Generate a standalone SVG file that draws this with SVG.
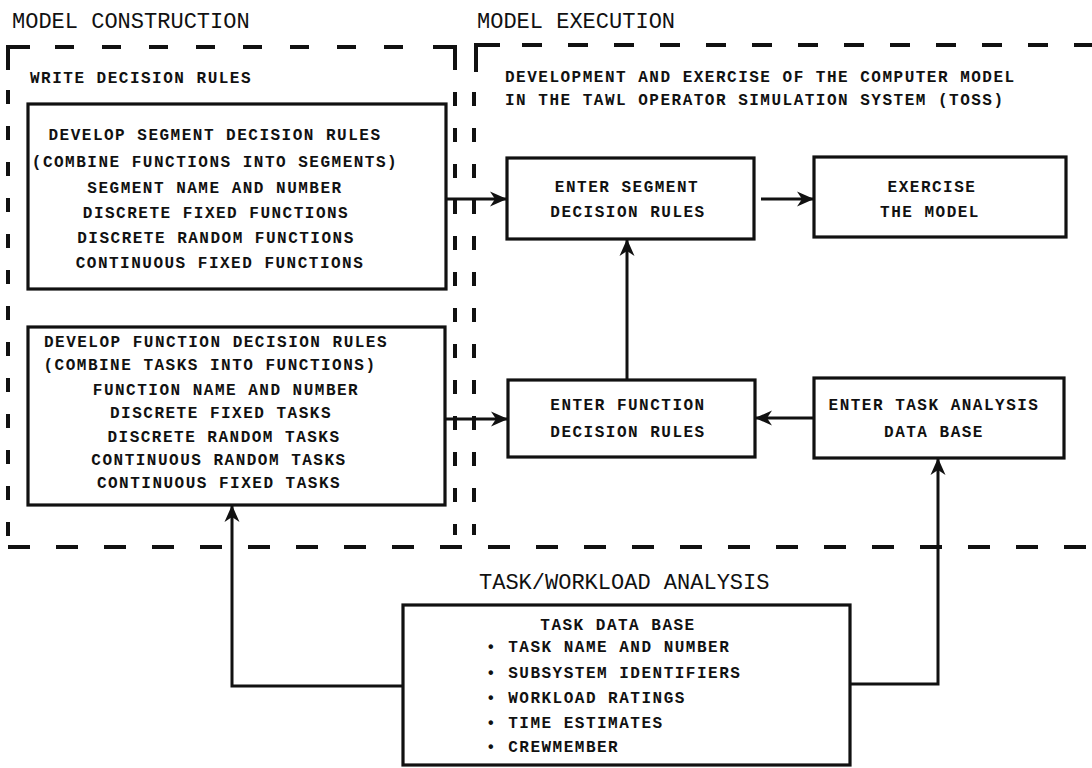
<svg xmlns="http://www.w3.org/2000/svg" width="1092" height="768" viewBox="0 0 1092 768">
<style>
.title{font-family:"Liberation Mono","DejaVu Sans Mono",monospace;font-size:22px;fill:#111}
.t{font-family:"Liberation Mono","DejaVu Sans Mono",monospace;font-size:16px;font-weight:bold;letter-spacing:1.5px;fill:#111}
.c{text-anchor:middle}
.box{fill:#fff;stroke:#111;stroke-width:3.2}
.conn{fill:none;stroke:#111;stroke-width:3}
.dash{fill:none;stroke:#111;stroke-width:4}
</style>
<defs>
<marker id="ah" markerUnits="userSpaceOnUse" markerWidth="20" markerHeight="18" viewBox="-18 -9 20 18" refX="0" refY="0" orient="auto">
<path d="M0,0 L-17,-7.5 L-12,0 L-17,7.5 Z" fill="#111"/>
</marker>
</defs>
<rect width="1092" height="768" fill="#fff"/>

<g id="frames">
<text class="title" x="12" y="28">MODEL CONSTRUCTION</text>
<text class="title" x="477" y="28">MODEL EXECUTION</text>
<text class="title" x="479" y="589">TASK/WORKLOAD ANALYSIS</text>
<path class="dash" d="M8,70 L8,47 L30,47 M433,47 L455,47 L455,70 M476,72 L476,45 L500,45"/>
<path class="dash" d="M55,47 L420,47" stroke-dasharray="19 28"/>
<path class="dash" d="M522,45 L1092,45" stroke-dasharray="20 26"/>
<path class="dash" d="M8,90 L8,540" stroke-dasharray="14 22"/>
<path class="dash" d="M455,92 L455,535" stroke-dasharray="14 22"/>
<path class="dash" d="M474,92 L474,535" stroke-dasharray="14 22"/>
<path class="dash" d="M8,547 L1092,547" stroke-dasharray="22 26"/>
<text class="t" x="30" y="83">WRITE DECISION RULES</text>
<text class="t" x="505" y="82">DEVELOPMENT AND EXERCISE OF THE COMPUTER MODEL</text>
<text class="t" x="505" y="105">IN THE TAWL OPERATOR SIMULATION SYSTEM (TOSS)</text>
</g>

<g id="connectors">
<path class="conn" d="M446,199 L507,199" marker-end="url(#ah)"/>
<path class="conn" d="M761,199 L814,199" marker-end="url(#ah)"/>
<path class="conn" d="M627,380 L627,239" marker-end="url(#ah)"/>
<path class="conn" d="M814,418 L755,418" marker-end="url(#ah)"/>
<path class="conn" d="M445,419 L508,419" marker-end="url(#ah)"/>
<path class="conn" d="M403,686 L232,686 L232,505" marker-end="url(#ah)"/>
<path class="conn" d="M850,684 L938,684 L938,458" marker-end="url(#ah)"/>
</g>

<g id="segment-rules">
<rect class="box" x="28" y="104" width="418" height="185"/>
<text class="t c" x="215" y="140">DEVELOP SEGMENT DECISION RULES</text>
<text class="t c" x="215" y="167">(COMBINE FUNCTIONS INTO SEGMENTS)</text>
<text class="t c" x="215" y="193">SEGMENT NAME AND NUMBER</text>
<text class="t c" x="216" y="218">DISCRETE FIXED FUNCTIONS</text>
<text class="t c" x="216" y="243">DISCRETE RANDOM FUNCTIONS</text>
<text class="t c" x="220" y="268">CONTINUOUS FIXED FUNCTIONS</text>
</g>

<g id="function-rules">
<rect class="box" x="28" y="327" width="417" height="178"/>
<text class="t c" x="216" y="347">DEVELOP FUNCTION DECISION RULES</text>
<text class="t c" x="210" y="370">(COMBINE TASKS INTO FUNCTIONS)</text>
<text class="t c" x="226" y="395">FUNCTION NAME AND NUMBER</text>
<text class="t c" x="221" y="418">DISCRETE FIXED TASKS</text>
<text class="t c" x="224" y="442">DISCRETE RANDOM TASKS</text>
<text class="t c" x="219" y="465">CONTINUOUS RANDOM TASKS</text>
<text class="t c" x="219" y="488">CONTINUOUS FIXED TASKS</text>
</g>

<g id="enter-segment">
<rect class="box" x="507" y="158" width="247" height="81"/>
<text class="t c" x="627" y="192">ENTER SEGMENT</text>
<text class="t c" x="628" y="217">DECISION RULES</text>
</g>

<g id="exercise">
<rect class="box" x="814" y="157" width="252" height="80"/>
<text class="t c" x="932" y="192">EXERCISE</text>
<text class="t c" x="930" y="217">THE MODEL</text>
</g>

<g id="enter-function">
<rect class="box" x="508" y="380" width="247" height="77"/>
<text class="t c" x="628" y="410">ENTER FUNCTION</text>
<text class="t c" x="628" y="437">DECISION RULES</text>
</g>

<g id="enter-task">
<rect class="box" x="814" y="378" width="250" height="80"/>
<text class="t c" x="934" y="410">ENTER TASK ANALYSIS</text>
<text class="t c" x="934" y="437">DATA BASE</text>
</g>

<g id="task-data-base">
<rect class="box" x="403" y="605" width="447" height="160"/>
<text class="t c" x="618" y="630">TASK DATA BASE</text>
<text class="t" x="486" y="652">• TASK NAME AND NUMBER</text>
<text class="t" x="486" y="678">• SUBSYSTEM IDENTIFIERS</text>
<text class="t" x="486" y="703">• WORKLOAD RATINGS</text>
<text class="t" x="486" y="728">• TIME ESTIMATES</text>
<text class="t" x="486" y="752">• CREWMEMBER</text>
</g>
</svg>
